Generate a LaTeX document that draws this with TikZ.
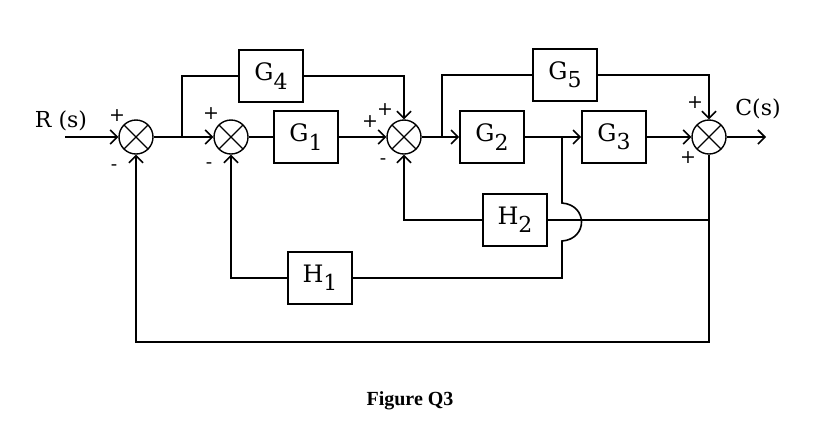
\documentclass[tikz,border=0pt]{standalone}
\usepackage{fontspec}
\setmainfont{DejaVu Serif}
\newfontfamily\capfont{Liberation Serif}
\usetikzlibrary{arrows.meta}
\newcommand{\gain}[2]{#1\raisebox{-0.35em}{\fontsize{11}{11}\selectfont #2}}
\tikzset{
    block/.style={draw, line width=0.8pt, minimum width=32pt, minimum height=26pt, inner sep=0pt, font=\fontsize{12}{13}\selectfont},
    sumjn/.style={draw, circle, line width=0.7pt, minimum size=17pt, inner sep=0pt,
        path picture={\draw[line width=0.6pt] (path picture bounding box.north west) -- (path picture bounding box.south east)
            (path picture bounding box.north east) -- (path picture bounding box.south west);}},
    sig/.style={font=\fontsize{9.5}{9.5}\selectfont, inner sep=0pt},
    link/.style={line width=0.8pt},
    feed/.style={link, -{Straight Barb[length=3.5pt, width=7pt]}}
}
\begin{document}
\begin{tikzpicture}[x=0.5pt, y=-0.5pt]
    \useasboundingbox (0,0) rectangle (817,447);
    % forward path
    \node[sumjn] (sa) at (136,137) {};
    \node[sumjn] (sb) at (231,137) {};
    \node[block] (gone) at (306,137) {\gain{G}{1}};
    \node[sumjn] (sc) at (404,137) {};
    \node[block] (gtwo) at (492,137) {\gain{G}{2}};
    \node[block] (gthree) at (614,137) {\gain{G}{3}};
    \node[sumjn] (sd) at (709,137) {};
    \node[block] (gfour) at (271,76) {\gain{G}{4}};
    \node[block] (gfive) at (565,75) {\gain{G}{5}};
    \node[block] (htwo) at (515,220) {\gain{H}{2}};
    \node[block] (hone) at (320,278) {\gain{H}{1}};
    \node[font=\fontsize{11}{12}\selectfont] (rlabel) at (61,121) {R (s)};
    \node[font=\fontsize{11}{12}\selectfont] (clabel) at (758,109) {C(s)};
    \node[font=\capfont\bfseries\fontsize{10}{12}\selectfont] (caption) at (410,401) {Figure Q3};
    % signs
    \node[sig] (pa) at (117,116) {+};
    \node[sig] (ma) at (114,168) {-};
    \node[sig] (pb) at (211,114) {+};
    \node[sig] (mb) at (209,166) {-};
    \node[sig] (pc) at (385,110) {+};
    \node[sig] (qc) at (370,122) {+};
    \node[sig] (mc) at (383,162) {-};
    \node[sig] (pd) at (695,103) {+};
    \node[sig] (qd) at (688,158) {+};
    % free ends and branch points
    \coordinate (rin) at (65,137);
    \coordinate (cout) at (766,137);
    \coordinate (bfour) at (182,137);
    \coordinate (bfive) at (442,137);
    \coordinate (bone) at (562,137);
    \coordinate (hoptop) at (562,203);
    \coordinate (hopbot) at (562,241);
    \coordinate (jtwo) at (709,220);
    \coordinate (lowr) at (709,342);
    % connectors
    \draw[feed] (rin) -- (sa);
    \draw[feed] (sa) -- (sb);
    \draw[link] (sb) -- (gone);
    \draw[feed] (gone) -- (sc);
    \draw[feed] (sc) -- (gtwo);
    \draw[feed] (gtwo) -- (gthree);
    \draw[feed] (gthree) -- (sd);
    \draw[feed] (sd) -- (cout);
    \draw[link] (bfour) |- (gfour);
    \draw[feed] (gfour) -| (sc);
    \draw[link] (bfive) |- (gfive);
    \draw[feed] (gfive) -| (sd);
    \draw[feed] (sd) -- (lowr) -| (sa);
    \draw[link] (jtwo) -- (htwo);
    \draw[feed] (htwo) -| (sc);
    \draw[link] (bone) -- (hoptop) .. controls (588,205) and (588,239) .. (hopbot) |- (hone);
    \draw[feed] (hone) -| (sb);
\end{tikzpicture}
\end{document}
